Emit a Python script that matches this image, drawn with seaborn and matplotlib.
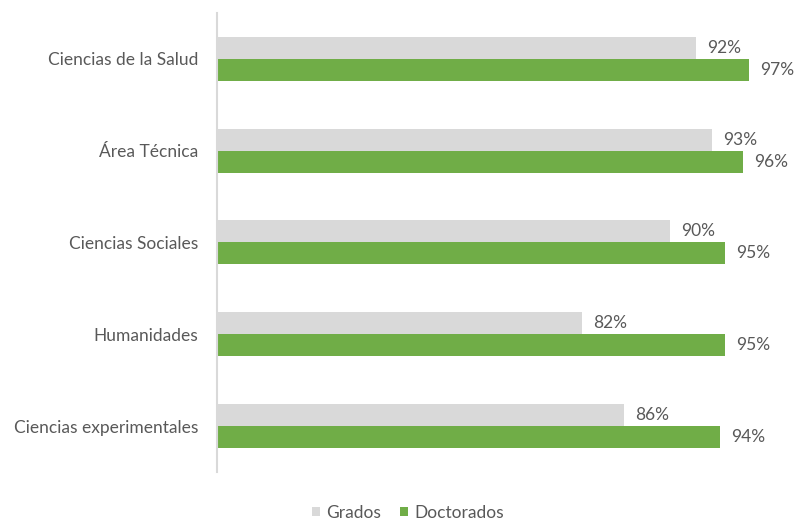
import matplotlib
matplotlib.use("Agg")
import matplotlib.pyplot as plt
import seaborn as sns
import pandas as pd

categories = ["Ciencias de la Salud", "Área Técnica", "Ciencias Sociales",
              "Humanidades", "Ciencias experimentales"]
grados = [0.920, 0.934, 0.897, 0.820, 0.857]
doctorados = [0.967, 0.961, 0.946, 0.946, 0.941]
series = ["Grados", "Doctorados"]
colors = ["#D9D9D9", "#70AD47"]

df = pd.DataFrame({
    "Área": categories * 2,
    "Valor": grados + doctorados,
    "Serie": [series[0]] * len(categories) + [series[1]] * len(categories),
})

sns.set_theme(style="white")
plt.rcParams["font.family"] = ["Lato", "DejaVu Sans"]
text_color = "#595959"

fig = plt.figure(figsize=(7.95, 5.2), dpi=100)
ax = fig.add_axes([217 / 795, 1 - 472 / 520, (787 - 217) / 795, (472 - 12.8) / 520])

sns.barplot(data=df, y="Área", x="Valor", hue="Serie", order=categories,
            hue_order=series, palette=colors, orient="h", width=0.48,
            ax=ax, legend=True, saturation=1, linewidth=0)

for cont in ax.containers:
    labels = [f"{round(b.get_width() * 100):d}%" for b in cont]
    ax.bar_label(cont, labels=labels, padding=8, fontsize=12.5, color=text_color)

ax.set_xlim(0.5, 1.0)
ax.set_ylim(4.5, -0.5)
ax.set_xlabel("")
ax.set_ylabel("")
ax.set_xticks([])
ax.tick_params(axis="y", length=0, pad=13.5, labelsize=12.5, labelcolor=text_color)
for s in ["top", "right", "bottom"]:
    ax.spines[s].set_visible(False)
ax.spines["left"].set_color("#D9D9D9")
ax.spines["left"].set_linewidth(1.5)

handles, lbls = ax.get_legend_handles_labels()
ax.get_legend().remove()
fig.legend(handles, lbls, loc="center", bbox_to_anchor=(408 / 795, 1 - 513 / 520),
           ncol=2, frameon=False, fontsize=12.5, labelcolor=text_color,
           handlelength=0.45, handleheight=0.45, handletextpad=0.35, columnspacing=1.1)

fig.savefig("out.png", dpi=100)
